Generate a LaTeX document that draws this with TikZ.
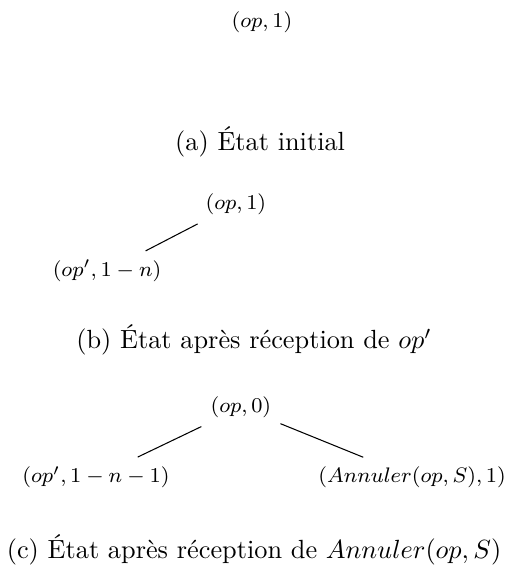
\documentclass[tikz,border=0pt]{standalone}
\begin{document}
\begin{tikzpicture}[x=1pt,y=1pt,
  tnode/.style={font=\footnotesize},
  captext/.style={font=\normalsize},
  edge/.style={draw,line width=0.4pt}]
\useasboundingbox (0,0) rectangle (193.5,-217.5);
% (a)
\node[tnode] (a0) at (99.6,-8.4) {$(op,1)$};
\node[captext] (ca) at (98.9,-54) {(a) État initial};
% (b)
\node[tnode] (b0) at (89.7,-77.6) {$(op,1)$};
\node[tnode] (b1) at (40.7,-103) {$(op',1-n)$};
\draw[edge] (b0) -- (b1);
\node[captext] (cb) at (96.6,-129.3) {(b) État après réception de $op'$};
% (c)
\node[tnode] (c0) at (91.6,-155) {$(op,0)$};
\node[tnode] (c1) at (36.5,-181.4) {$(op',1-n-1)$};
\node[tnode] (c2) at (156.7,-181.4) {$(Annuler(op,S),1)$};
\draw[edge] (c0) -- (c1);
\draw[edge] (c0) -- (c2);
\node[captext] (cc) at (96.6,-209) {(c) État après réception de $Annuler(op,S)$};
\end{tikzpicture}
\end{document}
